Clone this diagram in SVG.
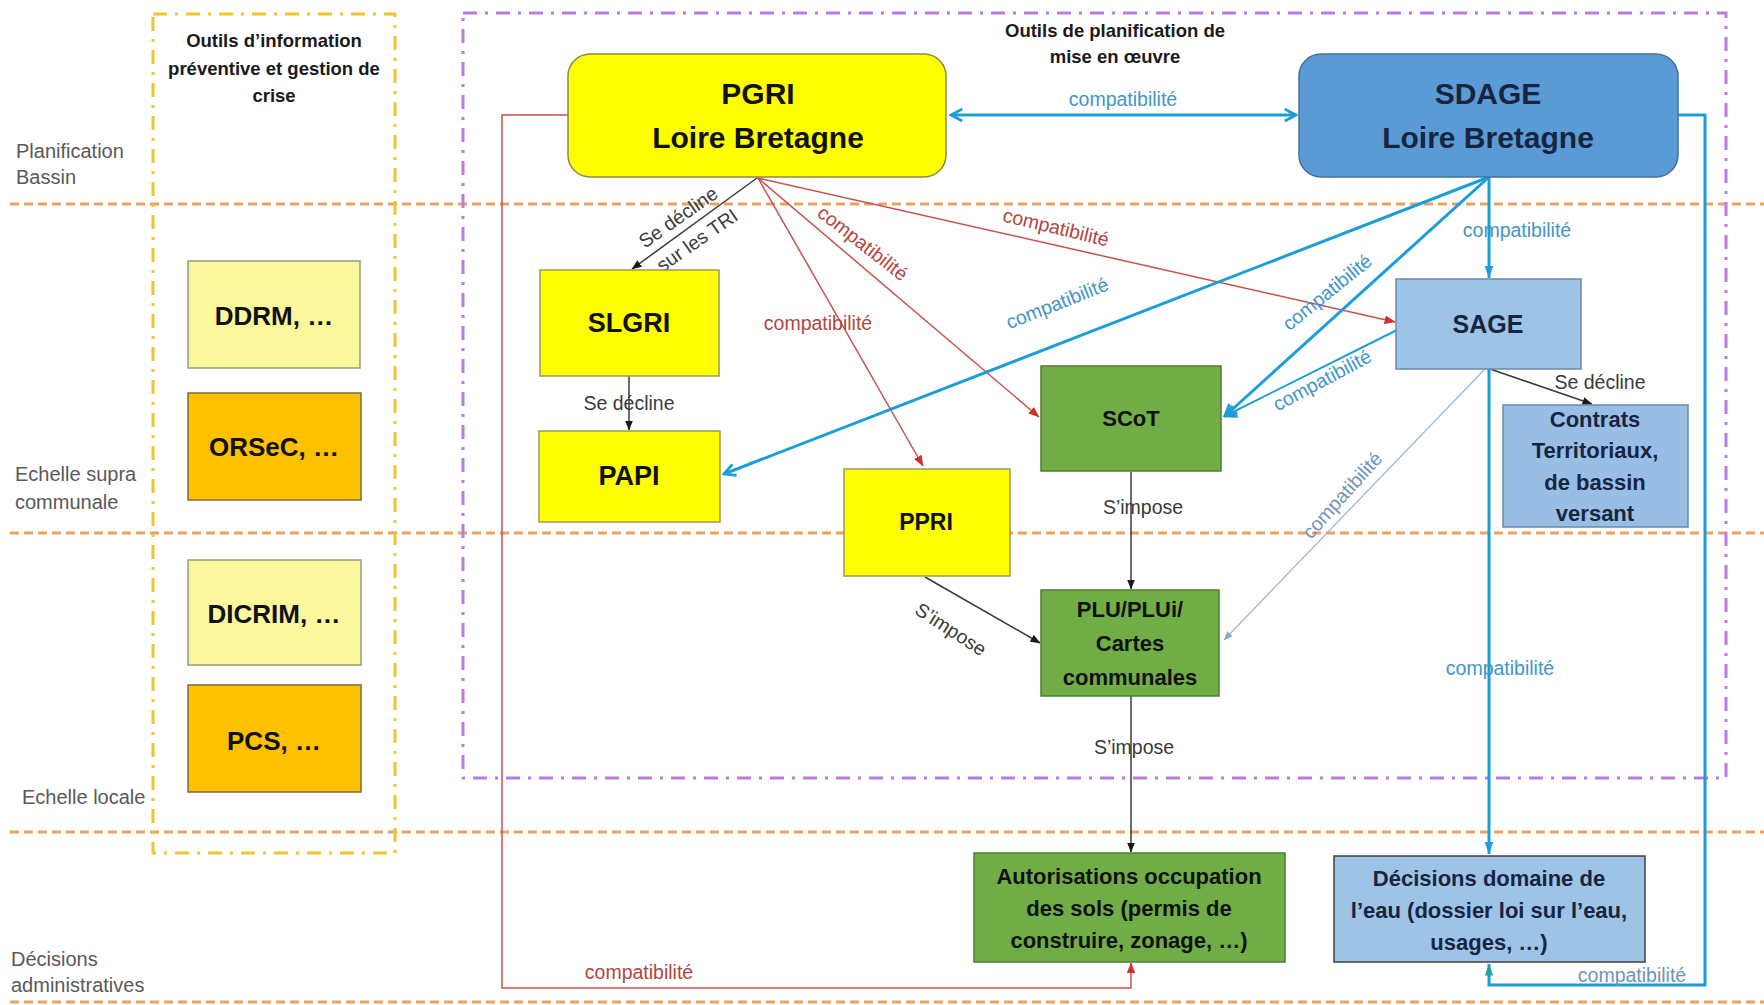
<svg xmlns="http://www.w3.org/2000/svg" width="1764" height="1005" viewBox="0 0 1764 1005">
<style>
text{font-family:"Liberation Sans",Arial,sans-serif}
.guide{fill:none;stroke:#E8A264;stroke-width:3;stroke-dasharray:9 5}
.zy{fill:none;stroke:#F2C230;stroke-width:3;stroke-dasharray:14 8 3 8}
.zp{fill:none;stroke:#B87CE0;stroke-width:3;stroke-dasharray:14 8 3 8}
.side{font-size:20px;fill:#595959}
.hdr{font-size:18.5px;font-weight:bold;fill:#1a1a1a;text-anchor:middle;dominant-baseline:central}
.nt{font-weight:bold;text-anchor:middle;dominant-baseline:central;fill:#111}
.nb{font-weight:bold;text-anchor:middle;dominant-baseline:central;fill:#172540}
.red{fill:none;stroke:#C8504A;stroke-width:1.5}
.blk{fill:none;stroke:#3a3a3a;stroke-width:1.5}
.blu{fill:none;stroke:#1B9DD8;stroke-width:3}
.blu2{fill:none;stroke:#1B9DD8;stroke-width:2}
.lite{fill:none;stroke:#9BB2CF;stroke-width:1.2}
.cl{font-size:19.5px;text-anchor:middle;dominant-baseline:central}
.cr{fill:#B3453F}
.cb{fill:#3F96C6}
.ck{fill:#3a3a3a}
.cg{fill:#6F93BA}
.yel{fill:#FFFF00;stroke:#9A9A55;stroke-width:1.5}
.lyel{fill:#FBF79C;stroke:#8E9E78;stroke-width:1.5}
.org{fill:#FFC000;stroke:#7F6A3A;stroke-width:1.5}
.grn{fill:#70AD47;stroke:#4F7E33;stroke-width:1.5}
.lbl{fill:#9DC3E6;stroke:#6C89A8;stroke-width:1.5}
</style>
<defs>
<marker id="mk" viewBox="0 0 10 10" refX="9.5" refY="5" markerWidth="10" markerHeight="10" markerUnits="userSpaceOnUse" orient="auto"><path d="M0,1 L10,5 L0,9 z" fill="#1a1a1a"/></marker>
<marker id="mr" viewBox="0 0 10 10" refX="9.5" refY="5" markerWidth="11" markerHeight="11" markerUnits="userSpaceOnUse" orient="auto"><path d="M0,1 L10,5 L0,9 z" fill="#D0302A"/></marker>
<marker id="mb" viewBox="0 0 12 10" refX="11.5" refY="5" markerWidth="13" markerHeight="11" markerUnits="userSpaceOnUse" orient="auto"><path d="M0,1 L12,5 L0,9 z" fill="#1B9DD8"/></marker>
<marker id="mbt" viewBox="0 0 12 10" refX="11.5" refY="5" markerWidth="12" markerHeight="10" markerUnits="userSpaceOnUse" orient="auto"><path d="M0,1 L12,5 L0,9 z" fill="#1AA5A8"/></marker>
<marker id="ml" viewBox="0 0 10 10" refX="9.5" refY="5" markerWidth="9" markerHeight="9" markerUnits="userSpaceOnUse" orient="auto"><path d="M0,1 L10,5 L0,9 z" fill="#8FA9CC"/></marker>
<marker id="mc" viewBox="0 0 14 14" refX="12.5" refY="7" markerWidth="15" markerHeight="15" markerUnits="userSpaceOnUse" orient="auto-start-reverse"><path d="M2,1.5 L12.5,7 L2,12.5" fill="none" stroke="#1B9DD8" stroke-width="2.6"/></marker>
</defs>
<rect width="1764" height="1005" fill="#ffffff"/>

<g id="guides">
<line class="guide" x1="10" y1="204" x2="1764" y2="204"/>
<line class="guide" x1="10" y1="533" x2="1764" y2="533"/>
<line class="guide" x1="10" y1="832" x2="1764" y2="832"/>
<line class="guide" x1="10" y1="1002" x2="1764" y2="1002"/>
<rect class="zy" x="153" y="14" width="242" height="839"/>
<rect class="zp" x="463" y="13" width="1263" height="765"/>
</g>

<g id="side-labels">
<text class="side" x="16" y="158">Planification</text>
<text class="side" x="16" y="184">Bassin</text>
<text class="side" x="15" y="481">Echelle supra</text>
<text class="side" x="15" y="509">communale</text>
<text class="side" x="22" y="804">Echelle locale</text>
<text class="side" x="11" y="966">Décisions</text>
<text class="side" x="11" y="992">administratives</text>
</g>

<g id="zone-headers">
<text class="hdr" x="274" y="40">Outils d’information</text>
<text class="hdr" x="274" y="68">préventive et gestion de</text>
<text class="hdr" x="274" y="95">crise</text>
<text class="hdr" x="1115" y="30">Outils de planification de</text>
<text class="hdr" x="1115" y="56">mise en œuvre</text>
</g>

<g id="connectors">
<path class="red" d="M758,178 L923,466" marker-end="url(#mr)"/>
<path class="red" d="M758,178 L1039,417" marker-end="url(#mr)"/>
<path class="red" d="M758,178 L1395,322" marker-end="url(#mr)"/>
<path class="red" d="M568,115 H502 V988 H1131 V963" marker-end="url(#mr)"/>
<path class="blk" d="M757,178 L632,269" marker-end="url(#mk)"/>
<path class="blk" d="M629,376 V430" marker-end="url(#mk)"/>
<path class="blk" d="M925,577 L1040,643" marker-end="url(#mk)"/>
<path class="blk" d="M1131,472 V589" marker-end="url(#mk)"/>
<path class="blk" d="M1131,696 V852" marker-end="url(#mk)"/>
<path class="blk" d="M1490,369 L1592,404" marker-end="url(#mk)"/>
<path class="blu" d="M951,115 H1296" marker-start="url(#mc)" marker-end="url(#mc)"/>
<path class="blu" d="M1489,177 V278" marker-end="url(#mb)"/>
<path class="blu" d="M1489,177 L724,474" marker-end="url(#mc)"/>
<path class="blu" d="M1489,177 L1225,416" marker-end="url(#mc)"/>
<path class="blu2" d="M1397,330 L1225,416" marker-end="url(#mc)"/>
<path class="lite" d="M1484,370 L1224,640" marker-end="url(#ml)"/>
<path class="blu" d="M1489,369 V854" marker-end="url(#mb)"/>
<path class="blu" d="M1678,115 H1705 V985 H1489 V964" marker-end="url(#mbt)"/>

<text class="cl cb" x="1123" y="99">compatibilité</text>
<text class="cl ck" transform="translate(678,217) rotate(-35)">Se décline</text>
<text class="cl ck" transform="translate(697,240) rotate(-35)">sur les TRI</text>
<text class="cl cr" transform="translate(863,243) rotate(38)">compatibilité</text>
<text class="cl cr" x="818" y="323">compatibilité</text>
<text class="cl cr" transform="translate(1056,227) rotate(13.5)">compatibilité</text>
<text class="cl cb" transform="translate(1057,303) rotate(-21.5)">compatibilité</text>
<text class="cl cb" transform="translate(1327,292) rotate(-39)">compatibilité</text>
<text class="cl cb" transform="translate(1322,380) rotate(-28)">compatibilité</text>
<text class="cl cg" transform="translate(1342,495) rotate(-48)">compatibilité</text>
<text class="cl cb" x="1517" y="230">compatibilité</text>
<text class="cl ck" x="1600" y="382">Se décline</text>
<text class="cl ck" x="629" y="403">Se décline</text>
<text class="cl ck" transform="translate(951,629) rotate(33)">S’impose</text>
<text class="cl ck" x="1143" y="507">S’impose</text>
<text class="cl ck" x="1134" y="747">S’impose</text>
<text class="cl cb" x="1500" y="668">compatibilité</text>
<text class="cl cg" x="1632" y="975">compatibilité</text>
<text class="cl cr" x="639" y="972">compatibilité</text>
</g>

<g id="n-pgri">
<rect class="yel" x="568" y="54" width="378" height="123" rx="22" style="stroke:#8A8A40"/>
<text class="nt" x="758" y="93" font-size="30">PGRI</text>
<text class="nt" x="758" y="137" font-size="30">Loire Bretagne</text>
</g>
<g id="n-sdage">
<rect x="1299" y="54" width="379" height="123" rx="22" fill="#5B9BD5" stroke="#41719C" stroke-width="1.5"/>
<text class="nb" x="1488" y="93" font-size="30">SDAGE</text>
<text class="nb" x="1488" y="137" font-size="30">Loire Bretagne</text>
</g>
<g id="n-slgri">
<rect class="yel" x="540" y="270" width="179" height="106"/>
<text class="nt" x="629" y="323" font-size="27">SLGRI</text>
</g>
<g id="n-papi">
<rect class="yel" x="539" y="431" width="181" height="91"/>
<text class="nt" x="629" y="476" font-size="27">PAPI</text>
</g>
<g id="n-ppri">
<rect class="yel" x="844" y="469" width="166" height="107"/>
<text class="nt" x="926" y="522" font-size="23">PPRI</text>
</g>
<g id="n-scot">
<rect class="grn" x="1041" y="366" width="180" height="105"/>
<text class="nt" x="1131" y="418" font-size="22">SCoT</text>
</g>
<g id="n-plu">
<rect class="grn" x="1041" y="590" width="178" height="106"/>
<text class="nt" x="1130" y="609" font-size="22">PLU/PLUi/</text>
<text class="nt" x="1130" y="643" font-size="22">Cartes</text>
<text class="nt" x="1130" y="677" font-size="22">communales</text>
</g>
<g id="n-autor">
<rect class="grn" x="974" y="853" width="311" height="109"/>
<text class="nt" x="1129" y="876" font-size="22">Autorisations occupation</text>
<text class="nt" x="1129" y="908" font-size="22">des sols (permis de</text>
<text class="nt" x="1129" y="940" font-size="22">construire, zonage, …)</text>
</g>
<g id="n-sage">
<rect class="lbl" x="1396" y="279" width="185" height="90"/>
<text class="nb" x="1488" y="324" font-size="25">SAGE</text>
</g>
<g id="n-contrats">
<rect class="lbl" x="1503" y="405" width="185" height="122" style="fill:#98BEE5"/>
<text class="nb" x="1595" y="419" font-size="22">Contrats</text>
<text class="nb" x="1595" y="450" font-size="22">Territoriaux,</text>
<text class="nb" x="1595" y="482" font-size="22">de bassin</text>
<text class="nb" x="1595" y="513" font-size="22">versant</text>
</g>
<g id="n-decisions">
<rect class="lbl" x="1334" y="856" width="311" height="106" style="stroke:#404040"/>
<text class="nb" x="1489" y="878" font-size="22">Décisions domaine de</text>
<text class="nb" x="1489" y="910" font-size="22">l’eau (dossier loi sur l’eau,</text>
<text class="nb" x="1489" y="942" font-size="22">usages, …)</text>
</g>
<g id="n-ddrm">
<rect class="lyel" x="188" y="261" width="172" height="107"/>
<text class="nt" x="274" y="316" font-size="26">DDRM, …</text>
</g>
<g id="n-orsec">
<rect class="org" x="188" y="393" width="173" height="107"/>
<text class="nt" x="274" y="447" font-size="26">ORSeC, …</text>
</g>
<g id="n-dicrim">
<rect class="lyel" x="188" y="560" width="173" height="105"/>
<text class="nt" x="274" y="614" font-size="26">DICRIM, …</text>
</g>
<g id="n-pcs">
<rect class="org" x="188" y="685" width="173" height="107"/>
<text class="nt" x="274" y="741" font-size="26">PCS, …</text>
</g>
</svg>
